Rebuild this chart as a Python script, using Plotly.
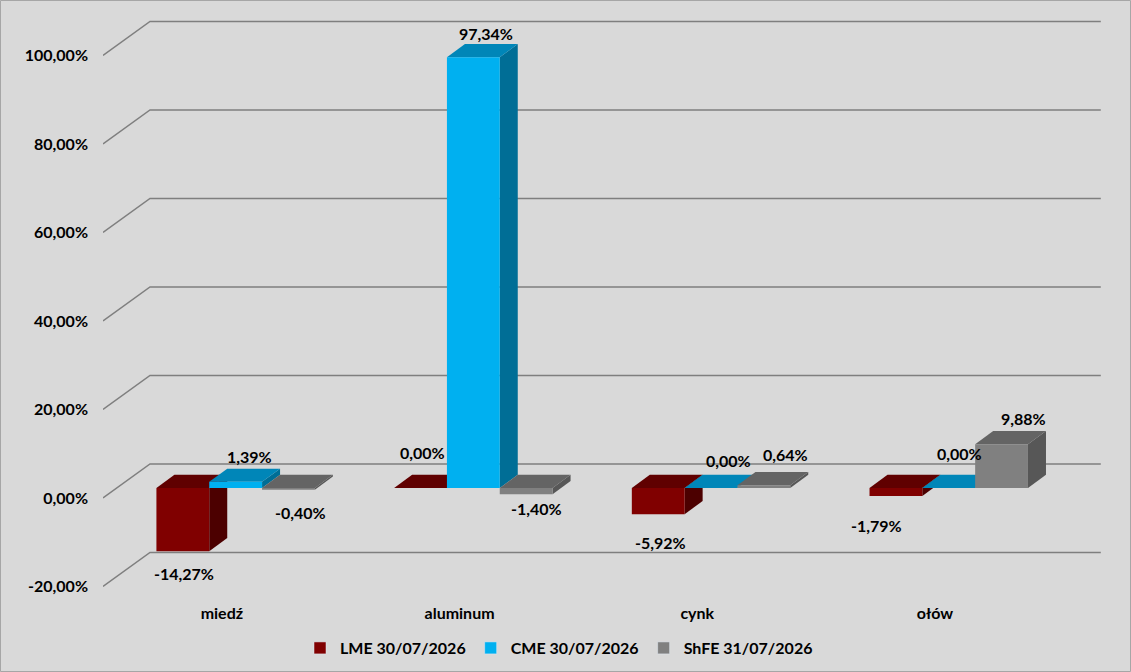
import plotly.graph_objects as go

# values (percent)
categories = ["miedź", "aluminum", "cynk", "ołów"]
series_names = ["LME 30/07/2026", "CME 30/07/2026", "ShFE 31/07/2026"]
lme = [-14.27, 0.00, -5.92, -1.79]
cme = [1.39, 97.34, 0.00, 0.00]
shfe = [-0.40, -1.40, 0.64, 9.88]
y_ticks = [-20, 0, 20, 40, 60, 80, 100]

series = [lme, cme, shfe]
# front, top, side colours per series
colors = [
    ("#800000", "#600000", "#4c0000"),
    ("#00b0f0", "#0086b8", "#006e96"),
    ("#808080", "#646464", "#575757"),
]

# label nudges in pixels (dx, dy) relative to the bar end, per series / category
label_nudge = [
    [(1, 22), (2, -36), (2, 28), (-19, 30)],
    [(14, -25), (13, -24), (17, -28), (11, -35)],
    [(12, 23), (10, 14), (22, -31), (22, -26)],
]

W, H = 1131, 672
ML, MR, MT, MB = 103, 28, 10, 72
PX_X = 237.7          # pixels per category slot
PX_Y = 4.425          # pixels per percent
ZERO_PX = 498         # pixel row of 0% on the front plane

wall_dx, wall_dy = 47 / PX_X, 34 / PX_Y
front_dx, front_dy = 13.8 / PX_X, 10 / PX_Y
depth_dx, depth_dy = 18 / PX_X, 13.2 / PX_Y
bar_w = 1 / 4.5       # gap width 150%

x_max = (W - ML - MR) / PX_X
y_top = (ZERO_PX - MT) / PX_Y
y_bot = (ZERO_PX - (H - MB)) / PX_Y


def fmt(v):
    return f"{v:.2f}".replace(".", ",") + "%"


def poly(xs, ys, color):
    return go.Scatter(
        x=xs + [xs[0]], y=ys + [ys[0]], mode="lines", fill="toself",
        fillcolor=color, line=dict(width=0, color=color),
        hoverinfo="skip", showlegend=False,
    )


fig = go.Figure()

# back wall gridlines with the slanted part on the left side
for t in y_ticks:
    fig.add_trace(go.Scatter(
        x=[0, wall_dx, len(categories) + wall_dx],
        y=[t, t + wall_dy, t + wall_dy],
        mode="lines", line=dict(color="#7f7f7f", width=1.5),
        hoverinfo="skip", showlegend=False,
    ))

annotations = []
for i, cat in enumerate(categories):
    for j, vals in enumerate(series):
        v = vals[i]
        front, top, side = colors[j]
        left = i + 0.75 * bar_w + j * bar_w + front_dx
        right = left + bar_w
        base = front_dy
        end = base + v
        lo, hi = min(base, end), max(base, end)
        # side face
        fig.add_trace(poly(
            [right, right, right + depth_dx, right + depth_dx],
            [lo, hi, hi + depth_dy, lo + depth_dy], side))
        # top face
        fig.add_trace(poly(
            [left, right, right + depth_dx, left + depth_dx],
            [hi, hi, hi + depth_dy, hi + depth_dy], top))
        # front face
        if hi > lo:
            fig.add_trace(poly([left, right, right, left], [lo, lo, hi, hi], front))
        dx, dy = label_nudge[j][i]
        annotations.append(dict(
            x=(left + right) / 2, y=end, xref="x", yref="y",
            text=fmt(v), showarrow=False, xshift=dx, yshift=-dy,
            font=dict(family="Lato", size=16, color="black", weight="bold"),
        ))

# legend entries
for j, name in enumerate(series_names):
    fig.add_trace(go.Bar(x=[-5], y=[0], name=name, marker_color=colors[j][0],
                         hoverinfo="skip"))

fig.update_layout(
    width=W, height=H,
    margin=dict(l=ML, r=MR, t=MT, b=MB),
    paper_bgcolor="#d9d9d9", plot_bgcolor="#d9d9d9",
    font=dict(family="Lato", size=16, color="black", weight="bold"),
    annotations=annotations,
    showlegend=True,
    legend=dict(orientation="h", xref="container", yref="container",
                x=559 / W, xanchor="center", y=1 - 648 / H, yanchor="middle",
                bgcolor="rgba(0,0,0,0)", font=dict(size=16)),
    hovermode=False,
    shapes=[dict(
        type="rect", xref="paper", yref="paper",
        x0=(0.5 - ML) / (W - ML - MR), x1=(W - 0.5 - ML) / (W - ML - MR),
        y0=(H - MB - (H - 0.5)) / (H - MT - MB), y1=(H - MB - 0.5) / (H - MT - MB),
        line=dict(color="#a6a6a6", width=1),
    )],
)
fig.update_xaxes(
    range=[0, x_max], showgrid=False, zeroline=False, showline=False,
    tickmode="array", tickvals=[i + 0.5 for i in range(len(categories))],
    ticktext=categories, ticks="", ticklabelstandoff=2, automargin=False,
)
fig.update_yaxes(
    range=[y_bot, y_top], showgrid=False, zeroline=False, showline=False,
    tickmode="array", tickvals=y_ticks, ticktext=[fmt(t) for t in y_ticks],
    ticks="", ticklabelstandoff=14, automargin=False,
)

# drop the default page margin so the chart sits at the window corner
fig.write_html("out.html", config={"displayModeBar": False},
               post_script="document.body.style.margin='0px';")
